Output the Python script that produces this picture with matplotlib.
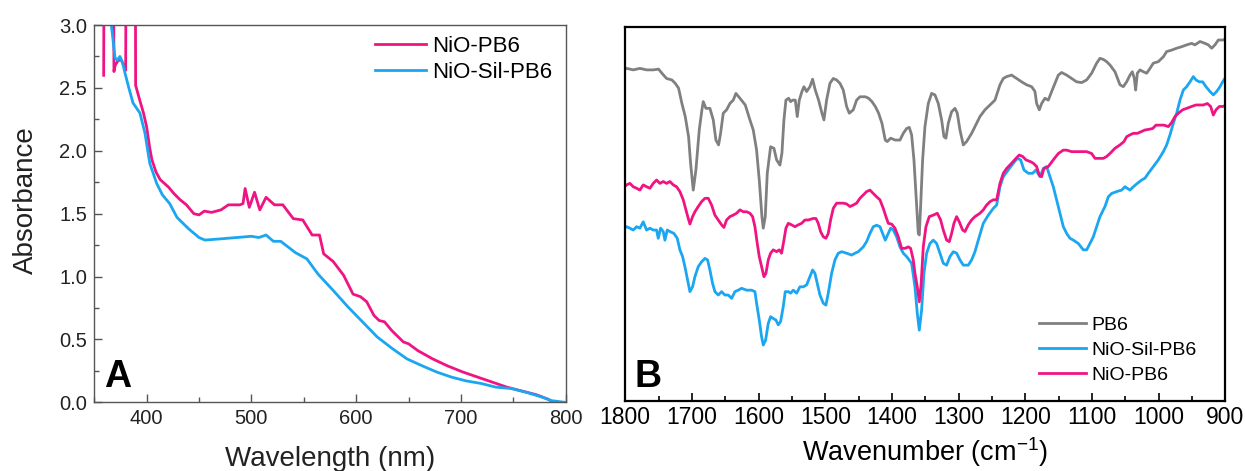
import matplotlib
matplotlib.use("Agg")
import matplotlib.pyplot as plt
from matplotlib.ticker import MultipleLocator, FormatStrFormatter

plt.rcParams['font.family'] = ['Liberation Sans', 'DejaVu Sans']
plt.rcParams['mathtext.fontset'] = 'custom'
plt.rcParams['mathtext.rm'] = 'Liberation Sans'

PINK = "#F01482"
BLUE = "#1AA6F0"
GRAY = "#808080"

# ---- panel A: UV-vis absorbance ----
# values above 3.0 are where the detector saturated (off the top of the plot)
wl_pb6 = [359, 359.3, 368.5, 368.8, 370, 373, 376, 379, 380, 380.3, 389.3, 389.5,
          393.5, 397, 400, 403, 405, 409, 413, 417, 421, 426, 432, 438, 445, 450,
          455, 462, 471, 478, 489, 492, 494, 498, 503, 508, 514, 522, 530, 540,
          549, 558, 565, 569, 578, 588, 597, 604, 610, 617, 622, 627, 634, 645,
          650, 659, 673, 687, 702, 716, 730, 744, 758, 772, 783, 788]
abs_pb6 = [2.60, 3.40, 3.40, 2.63, 2.68, 2.72, 2.72, 2.66, 2.64, 3.40, 3.40, 2.52,
           2.40, 2.30, 2.19, 2.02, 1.93, 1.83, 1.77, 1.74, 1.71, 1.66, 1.61, 1.57, 1.50, 1.49,
           1.52, 1.51, 1.53, 1.57, 1.57, 1.58, 1.70, 1.55, 1.67, 1.53, 1.63, 1.57, 1.57, 1.46,
           1.45, 1.33, 1.33, 1.18, 1.12, 1.01, 0.86, 0.84, 0.80, 0.69, 0.65, 0.64, 0.57, 0.48,
           0.465, 0.41, 0.345, 0.29, 0.24, 0.20, 0.16, 0.12, 0.09, 0.06, 0.025, 0.0]

wl_sil = [365, 369.8, 372, 374.5, 377, 379.3, 383, 387, 393.6, 398.4, 403, 409.6,
          415, 419, 422, 429, 440, 450, 455.6, 471.5, 485.7, 500, 507, 514, 521,
          528, 542, 553, 563.5, 578, 592, 606, 620, 634, 648.5, 663, 677, 691,
          705, 719, 733.5, 747.6, 762, 776, 786.5, 799]
abs_sil = [3.10, 2.74, 2.72, 2.75, 2.70, 2.62, 2.50, 2.38, 2.30, 2.14, 1.90, 1.74,
           1.65, 1.61, 1.58, 1.47, 1.38, 1.31, 1.29, 1.30, 1.31, 1.32, 1.31, 1.33, 1.28,
           1.28, 1.19, 1.14, 1.02, 0.89, 0.76, 0.64, 0.52, 0.43, 0.345, 0.29, 0.24, 0.20,
           0.17, 0.15, 0.12, 0.11, 0.08, 0.045, 0.013, 0.0]

# ---- panel B: FTIR (arbitrary units, traces offset) ----
wn_pb6 = [1800, 1798, 1788, 1778, 1768, 1758, 1750, 1745, 1738, 1730, 1725, 1720, 1715,
          1710, 1705, 1702, 1698, 1694, 1689, 1685, 1683, 1679, 1673, 1668, 1664,
          1660, 1657, 1653, 1648, 1643, 1638, 1634, 1628, 1620, 1613, 1608, 1603,
          1599, 1595, 1593, 1590, 1587, 1582, 1577, 1573, 1568, 1565, 1562, 1559,
          1555, 1552, 1549, 1545, 1542, 1539, 1535, 1532, 1528, 1523, 1519, 1515,
          1510, 1505, 1502, 1498, 1493, 1488, 1483, 1478, 1473, 1468, 1464, 1458,
          1453, 1448, 1440, 1435, 1430, 1425, 1420, 1415, 1410, 1407, 1402, 1395,
          1388, 1383, 1378, 1374, 1370.5, 1367, 1364, 1360.5, 1359, 1357, 1354,
          1350.5, 1345.5, 1340.5, 1335.5, 1330.5, 1325.5, 1322, 1319, 1315.5,
          1310.5, 1305.5, 1302, 1298, 1293, 1288, 1280.5, 1273, 1268, 1260.5, 1253,
          1245.5, 1238, 1233, 1228, 1220.5, 1213, 1205.5, 1198, 1190.5, 1185.5,
          1183, 1179, 1175.5, 1170.5, 1165.5, 1160.5, 1155.5, 1150.5, 1145.5, 1138,
          1130.5, 1123, 1115.5, 1108, 1100.5, 1093, 1088, 1083, 1078, 1073, 1065.5,
          1058, 1053, 1048, 1043, 1039.5, 1036.5, 1034.5, 1032, 1028, 1023, 1018,
          1013, 1008, 1000.5, 993, 988, 980.5, 973, 965.5, 958, 950.5, 945.5, 938,
          930.5, 925.5, 920.5, 915.5, 910.5, 904, 900]
ir_pb6 = [88.8, 89.0, 88.6, 89.0, 88.6, 88.6, 88.8, 87.7, 86.3, 85.9, 85.0, 83.7, 79.6,
          76.1, 70.7, 63.6, 56.4, 61.8, 72.5, 77.9, 80.1, 78.3, 78.3, 75.2, 69.8,
          68.5, 71.6, 77.0, 77.9, 79.6, 80.5, 82.3, 81.0, 79.2, 75.2, 72.5, 67.1,
          59.1, 49.3, 46.2, 49.3, 60.9, 68.0, 67.6, 64.5, 63.1, 66.3, 75.2, 80.5,
          81.0, 80.1, 80.5, 80.5, 76.1, 80.5, 82.8, 84.1, 82.8, 84.1, 86.1, 83.2,
          80.5, 77.0, 75.2, 80.5, 85.0, 86.3, 85.9, 85.0, 83.2, 78.8, 77.0, 77.9,
          80.5, 81.4, 81.4, 81.0, 80.1, 78.8, 77.0, 74.3, 69.8, 69.4, 70.3, 69.8,
          69.8, 71.6, 72.9, 73.2, 71.2, 64.5, 55.5, 44.8, 44.4, 52.0, 64.5,
          73.4, 79.6, 82.3, 81.9, 79.6, 75.2, 70.7, 70.3, 74.3,
          77.4, 78.3, 77.0, 72.5, 68.5, 69.4, 71.6, 74.3, 76.1, 77.9, 79.2,
          80.5, 84.6, 86.3, 86.8, 87.2, 86.3, 85.4, 84.6, 84.1, 82.8,
          79.6, 77.9, 79.6, 81.0, 80.5, 82.8, 85.0, 87.2, 87.9, 87.2,
          86.3, 85.4, 85.2, 85.9, 87.7, 90.4, 91.7, 91.4, 90.8, 89.9, 88.1,
          84.6, 84.1, 85.4, 87.2, 88.1, 86.3, 83.2, 87.7, 88.6, 88.1, 87.7,
          89.0, 90.4, 90.8, 92.1, 93.5, 93.9, 94.4, 94.8, 95.3, 95.7, 95.3, 96.2,
          95.7, 95.3, 94.4, 95.3, 96.6, 96.6, 96.8]

wn_nio = [1800, 1798, 1793, 1788, 1783, 1778, 1773, 1768, 1763, 1758, 1753, 1748, 1743,
          1738, 1733, 1728, 1723, 1718, 1713, 1709, 1705.5, 1703, 1699, 1695.5,
          1690.5, 1685.5, 1680.5, 1675.5, 1670.5, 1665.5, 1660.5, 1655.5, 1652,
          1648, 1643, 1638, 1633, 1628, 1623, 1618, 1613, 1609, 1605.5, 1602, 1599,
          1595.5, 1592, 1589, 1585.5, 1582, 1578, 1573, 1569, 1565.5, 1562, 1559,
          1555.5, 1550.5, 1545.5, 1540.5, 1535.5, 1530.5, 1525.5, 1518, 1514,
          1510.5, 1507, 1503, 1499, 1495.5, 1492, 1488, 1483, 1478, 1473, 1468,
          1463, 1458, 1453, 1448, 1443, 1438, 1433, 1428, 1423, 1418, 1413, 1409,
          1405.5, 1400.5, 1395.5, 1390.5, 1385.5, 1380.5, 1375.5, 1372, 1368,
          1365.5, 1362, 1359, 1356.5, 1353, 1349, 1344, 1338, 1332, 1327, 1323,
          1318, 1314, 1310.5, 1307, 1303, 1299, 1294, 1290.5, 1285.5, 1280.5,
          1275.5, 1268, 1263, 1258, 1253, 1248, 1243, 1238, 1233, 1228, 1220.5,
          1214, 1209, 1204, 1199, 1192, 1188, 1183, 1179, 1175.5, 1172, 1165.5,
          1158, 1150.5, 1143, 1138, 1130.5, 1123, 1115.5, 1108, 1100.5, 1095.5,
          1090.5, 1083, 1078, 1073, 1065.5, 1058, 1052, 1048, 1043, 1038, 1032,
          1027, 1020.5, 1014, 1009, 1004, 998, 992, 985.5, 980.5, 975.5, 970.5,
          964, 958, 950.5, 944, 939, 933, 927, 922, 918, 914, 909, 904, 900]
ir_nio = [57.5, 57.8, 58.2, 57.3, 56.9, 56.4, 57.8, 57.3, 56.9, 58.2, 59.1, 58.2, 58.7,
          58.2, 58.7, 57.8, 57.3, 56.0, 53.8, 51.1, 48.8, 47.3, 49.3, 50.6,
          52.0, 53.3, 54.2, 54.2, 52.4, 49.7, 48.4, 47.1, 46.4,
          48.4, 49.3, 49.7, 50.2, 51.1, 50.6, 50.6, 50.2, 49.3, 46.6, 42.1, 38.6,
          35.9, 33.2, 34.1, 37.7, 39.5, 40.4, 39.9, 40.4, 39.5, 43.0, 46.2,
          47.5, 47.1, 46.6, 47.1, 47.5, 48.4, 48.4, 48.8, 48.8,
          47.5, 45.3, 43.9, 43.5, 44.8, 48.4, 51.5, 52.9, 52.9, 52.9, 52.7,
          52.0, 52.4, 52.9, 54.2, 55.1, 56.0, 56.4, 55.5, 54.6, 53.8, 51.5, 49.3,
          47.5, 47.3, 46.2, 43.9, 40.8, 40.8, 41.2, 40.8, 37.7,
          34.1, 30.5, 26.5, 30.5, 41.2, 46.6, 49.3, 49.7, 50.2, 48.4, 45.7,
          43.0, 42.6, 44.8, 47.5, 49.3, 47.9, 45.7, 45.3, 47.1, 48.4,
          49.3, 50.2, 51.1, 52.4, 53.3, 53.8, 53.8, 58.2, 60.9, 62.2, 63.6,
          64.9, 65.8, 65.4, 64.5, 64.0, 63.6, 62.7, 60.4, 60.0, 62.2, 62.7,
          64.5, 66.2, 67.1, 67.1, 66.7, 66.7, 66.7, 66.7, 66.2, 64.9,
          64.9, 64.9, 65.4, 66.2, 67.6, 68.5, 69.4, 70.7, 71.2, 71.6, 71.6,
          72.0, 72.5, 72.7, 72.9, 73.8, 73.8, 73.8, 73.4, 74.5, 76.1, 77.0,
          77.9, 78.3, 78.8, 79.2, 79.2, 79.2, 79.6, 78.8, 76.5, 77.9, 78.8, 78.8, 79.0]

wn_sil = [1800, 1798, 1793, 1788, 1783, 1778, 1773, 1768, 1763, 1758, 1753, 1750.5, 1747,
          1743, 1740.5, 1737, 1733, 1727, 1722, 1718, 1714, 1710.5, 1707, 1703,
          1699, 1695.5, 1690.5, 1685.5, 1680.5, 1676.5, 1673, 1669, 1665.5,
          1660.5, 1655.5, 1650.5, 1645.5, 1640.5, 1635.5, 1630.5, 1625.5, 1618,
          1610.5, 1605.5, 1603, 1599, 1595.5, 1593, 1589.5, 1585.5, 1582, 1578,
          1574, 1570.5, 1567, 1563, 1560, 1555.5, 1552, 1548, 1543, 1538, 1533,
          1528, 1523, 1519, 1515.5, 1512, 1508, 1503, 1499, 1495.5, 1490.5,
          1485.5, 1480.5, 1475.5, 1468, 1460.5, 1455.5, 1450.5, 1443, 1438, 1433,
          1428, 1423, 1418, 1414, 1410, 1405.5, 1402, 1398, 1393, 1388, 1383,
          1378, 1370.5, 1365.5, 1362, 1359, 1355.5, 1352, 1348, 1343, 1338, 1333,
          1328, 1323, 1318, 1313, 1308, 1303, 1298, 1293, 1285.5, 1280.5, 1275.5,
          1270.5, 1263, 1255.5, 1248, 1243, 1238, 1233, 1225.5, 1218, 1212, 1207,
          1202, 1195.5, 1189, 1184, 1178, 1173, 1168, 1163, 1158, 1153, 1148, 1143,
          1138, 1133, 1128, 1120.5, 1113, 1108, 1103, 1098, 1093, 1088, 1080.5,
          1075.5, 1070.5, 1063, 1055.5, 1050.5, 1043, 1038, 1032, 1025.5, 1020.5,
          1015.5, 1008, 1000.5, 993, 988, 983, 978, 973, 968, 963, 958, 953, 948,
          944, 939, 934, 929, 923, 918, 913, 908, 904, 900]
ir_sil = [46.4, 46.6, 46.2, 45.7, 46.6, 46.2, 47.9, 45.7, 46.2, 45.7, 45.7, 43.5, 46.2,
          45.3, 43.0, 45.7, 45.3, 44.8, 43.5, 40.4, 38.6, 35.9, 32.8, 29.2,
          30.5, 33.2, 35.9, 37.2, 38.1, 37.7, 35.0, 31.4, 29.2,
          28.3, 29.2, 28.3, 28.3, 27.4, 29.2, 29.6, 30.1, 29.6,
          29.6, 29.2, 26.1, 21.6, 17.1, 14.9, 16.2, 20.7, 22.5, 22.0,
          21.6, 20.3, 21.2, 25.2, 29.2, 29.2, 28.8, 29.6, 28.8, 30.5, 30.5,
          31.0, 33.2, 35.0, 34.1, 31.4, 28.3, 26.1, 25.6, 28.8, 34.1,
          37.7, 39.5, 39.9, 39.5, 39.0, 39.5, 39.9, 41.2, 42.6, 44.8,
          46.6, 47.0, 46.6, 44.8, 43.0, 44.8, 46.2, 45.7, 43.9, 41.2, 39.5,
          38.6, 36.8, 30.5, 23.4, 18.9, 24.3, 34.1, 39.5, 42.1, 43.0, 42.1,
          39.5, 36.8, 36.3, 38.6, 39.9, 39.5, 37.7, 36.3, 36.3, 37.7, 39.9,
          43.0, 47.5, 49.7, 51.5, 52.4, 57.3, 60.0, 61.8, 63.6, 64.9, 64.5,
          61.8, 60.9, 60.9, 61.8, 60.0, 62.2, 62.7, 60.0, 57.3, 53.8, 50.2, 46.6,
          44.8, 43.5, 43.0, 42.1, 40.4, 40.4, 42.1, 43.9, 46.6, 49.3, 52.0,
          54.6, 55.5, 56.0, 56.4, 57.3, 56.4, 57.3, 58.2, 59.1, 59.6,
          60.9, 62.7, 64.5, 66.7, 68.5, 71.2, 74.3, 77.0, 80.5, 83.2, 84.1, 85.4, 86.8,
          85.9, 85.4, 85.4, 84.1, 82.8, 81.9, 82.8, 84.1, 85.4, 86.5]

fig = plt.figure(figsize=(12.45, 4.71), dpi=100)
axA = fig.add_axes([0.0757, 0.1459, 0.3787, 0.8010])
axB = fig.add_axes([0.5022, 0.1493, 0.4820, 0.7927])

# panel A
axA.plot(wl_pb6, abs_pb6, color=PINK, lw=2, label="NiO-PB6")
axA.plot(wl_sil, abs_sil, color=BLUE, lw=2, label="NiO-Sil-PB6")
axA.set_xlim(350, 800)
axA.set_ylim(0, 3.0)
axA.xaxis.set_major_locator(MultipleLocator(100))
axA.xaxis.set_minor_locator(MultipleLocator(50))
axA.yaxis.set_major_locator(MultipleLocator(0.5))
axA.yaxis.set_minor_locator(MultipleLocator(0.25))
axA.set_xticks([400, 500, 600, 700, 800])
axA.yaxis.set_major_formatter(FormatStrFormatter('%.1f'))
axA.tick_params(which='both', direction='in', top=False, right=False,
                colors='#555555', labelcolor='#222222', width=1)
axA.tick_params(which='major', length=6, labelsize=14.5, pad=5)
axA.tick_params(which='minor', length=3.5)
for s in axA.spines.values():
    s.set_color('#555555')
    s.set_linewidth(1)
axA.set_xlabel("Wavelength (nm)", fontsize=20, color='#222222', labelpad=13)
axA.set_ylabel("Absorbance", fontsize=20, color='#222222')
axA.yaxis.set_label_coords(-0.118, 0.535)
axA.legend(loc='upper left', bbox_to_anchor=(0.595, 0.972), frameon=False,
           fontsize=16, handlelength=2.3, handletextpad=0.3, labelspacing=0.25,
           borderpad=0, borderaxespad=0)
axA.text(0.02, 0.04, "A", transform=axA.transAxes, fontsize=27,
         fontweight='bold', ha='left', va='baseline')

# panel B
axB.plot(wn_pb6, ir_pb6, color=GRAY, lw=2, label="PB6")
axB.plot(wn_sil, ir_sil, color=BLUE, lw=2, label="NiO-Sil-PB6")
axB.plot(wn_nio, ir_nio, color=PINK, lw=2, label="NiO-PB6")
axB.set_xlim(1800, 900)
axB.set_ylim(0, 100)
axB.xaxis.set_major_locator(MultipleLocator(100))
axB.xaxis.set_minor_locator(MultipleLocator(50))
axB.set_yticks([])
axB.tick_params(which='both', direction='in', top=False, right=False,
                left=False, colors='black', width=1.2)
axB.tick_params(which='major', length=6, labelsize=16.5, pad=4)
axB.tick_params(which='minor', length=3.5)
for s in axB.spines.values():
    s.set_color('black')
    s.set_linewidth(1.6)
axB.set_xlabel("Wavenumber (cm$^{-1}$)", fontsize=19.5, labelpad=4)
axB.legend(loc='lower left', bbox_to_anchor=(0.69, 0.045), frameon=False,
           fontsize=14, handlelength=2.4, handletextpad=0.3, labelspacing=0.38,
           borderpad=0, borderaxespad=0)
axB.text(0.015, 0.037, "B", transform=axB.transAxes, fontsize=27,
         fontweight='bold', ha='left', va='baseline')

fig.savefig("out.png", dpi=100)
